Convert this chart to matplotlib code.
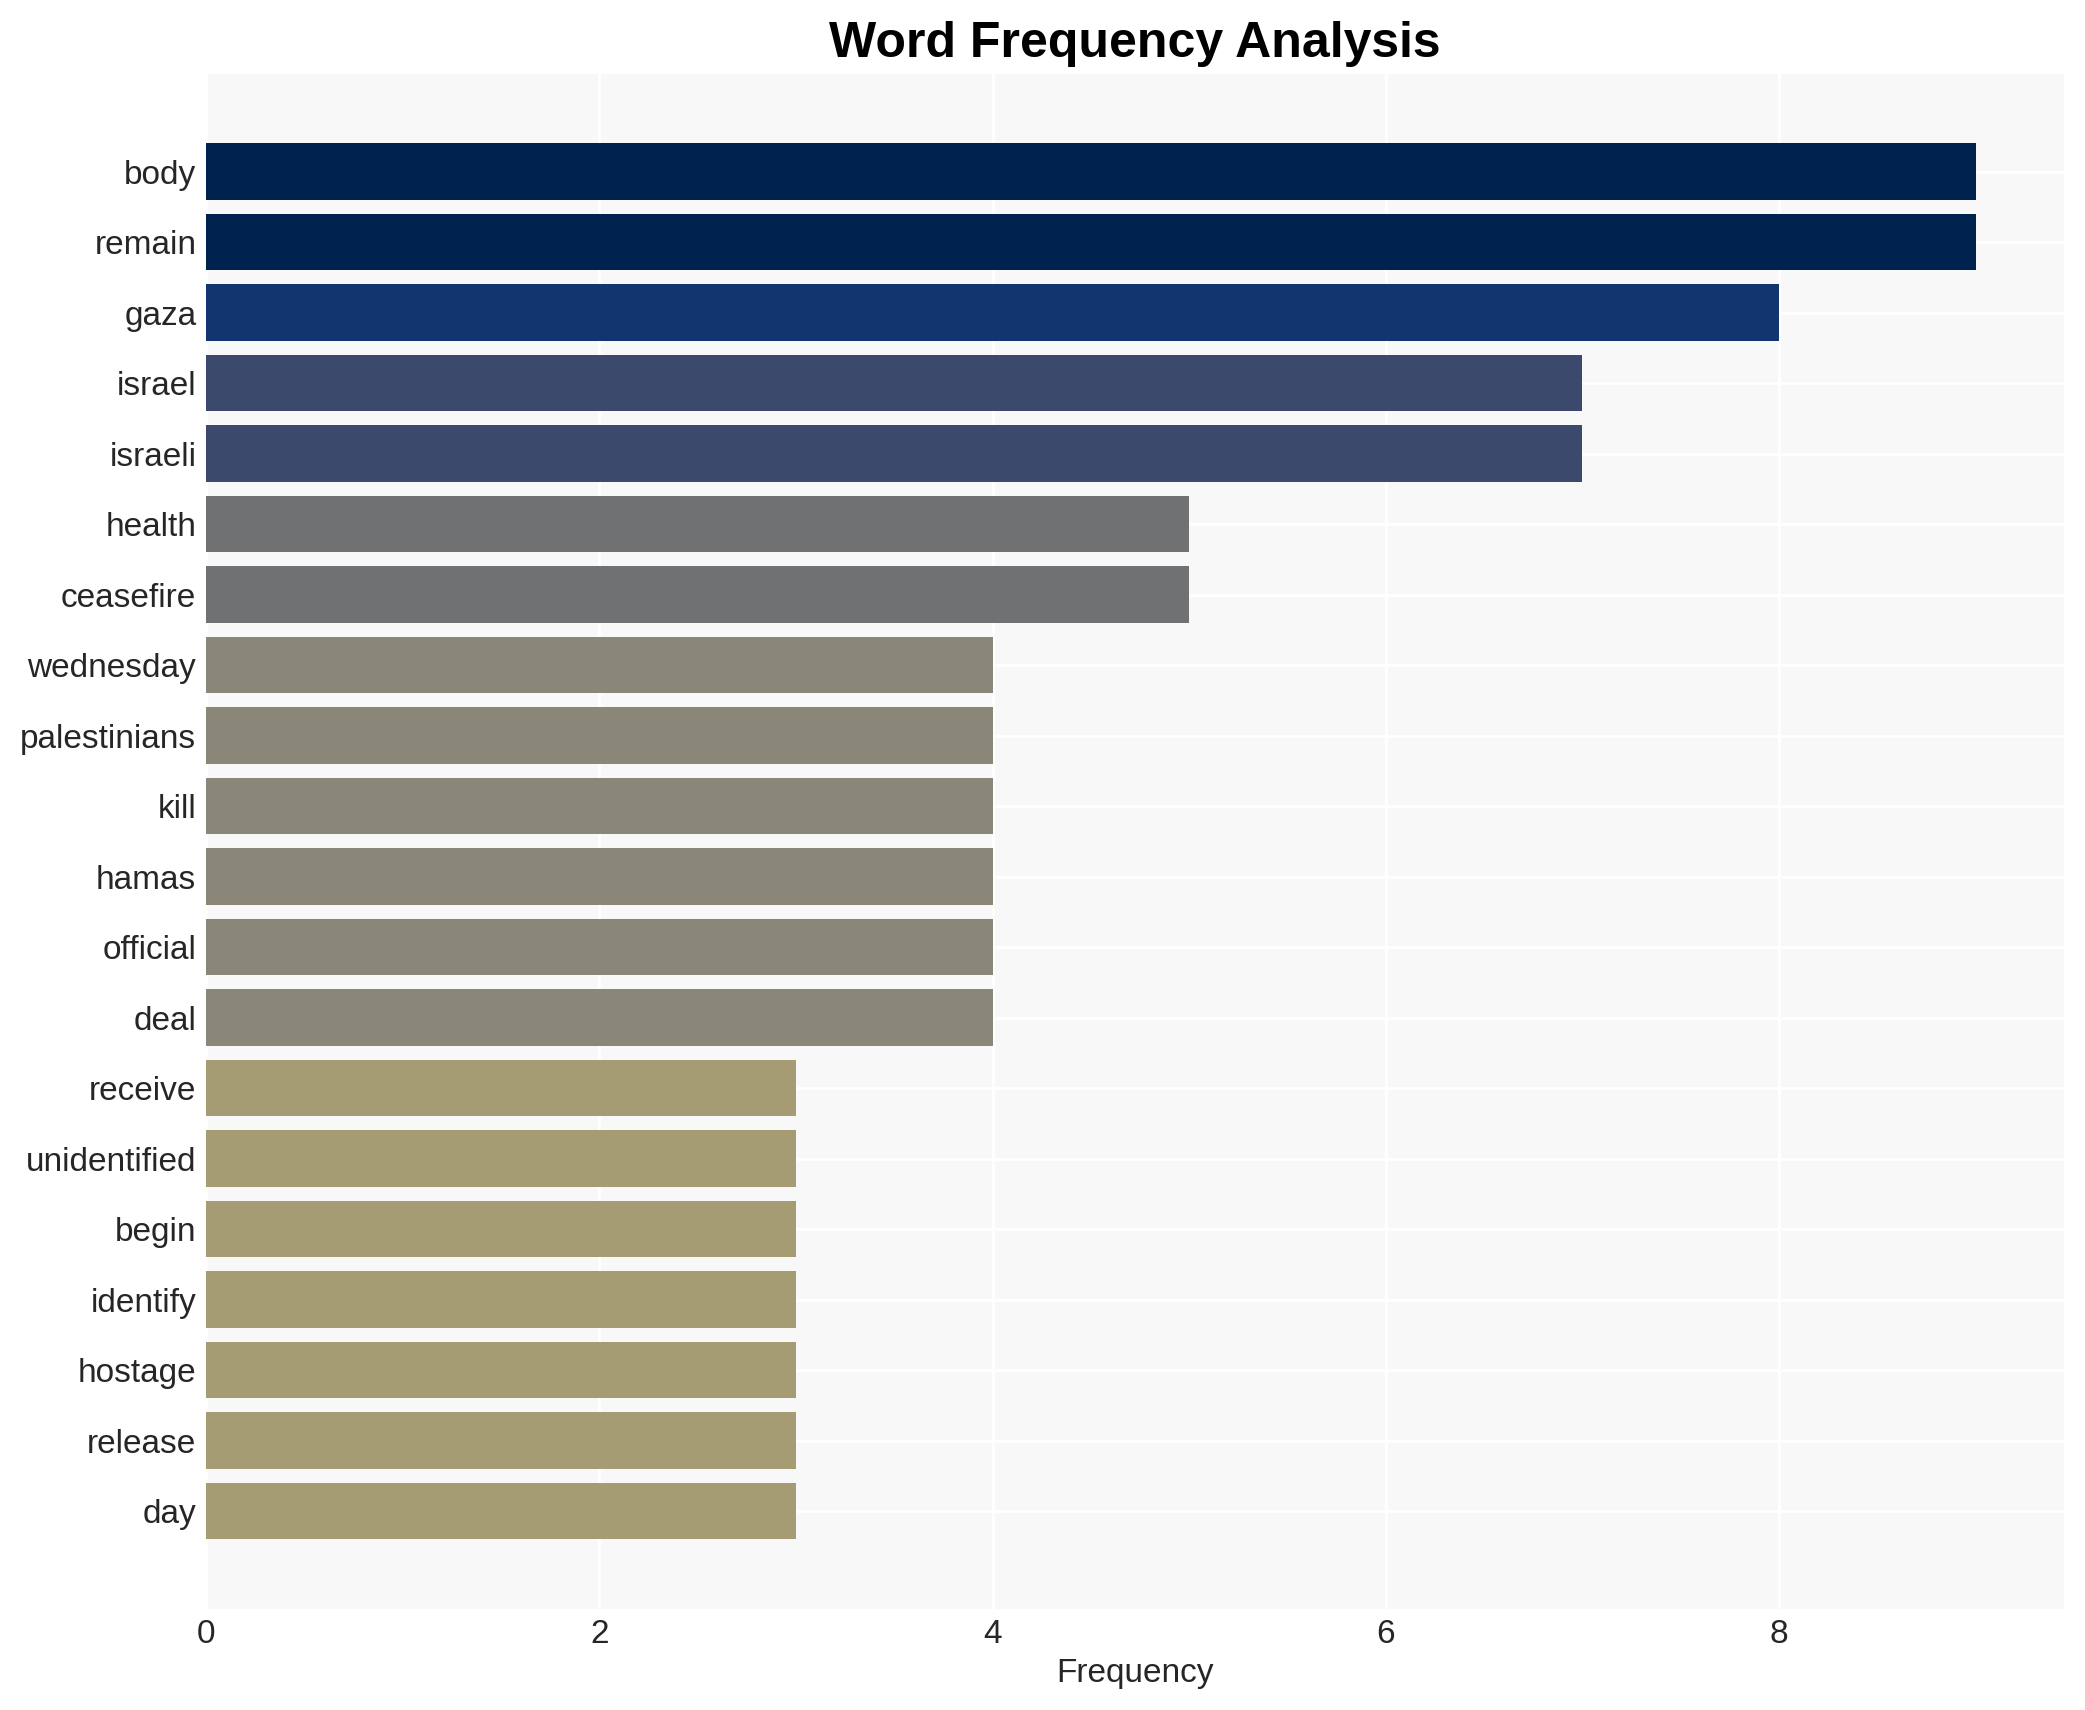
import numpy as np
import matplotlib
matplotlib.use("Agg")
import matplotlib.pyplot as plt

# word counts
words = ['body', 'remain', 'gaza', 'israel', 'israeli', 'health', 'ceasefire',
         'wednesday', 'palestinians', 'kill', 'hamas', 'official', 'deal',
         'receive', 'unidentified', 'begin', 'identify', 'hostage', 'release', 'day']
freqs = [9, 9, 8, 7, 7, 5, 5, 4, 4, 4, 4, 4, 4, 3, 3, 3, 3, 3, 3, 3]
xticks = [0, 2, 4, 6, 8]

plt.rcParams['font.family'] = ['Liberation Sans', 'DejaVu Sans']

freqs_arr = np.array(freqs, dtype=float)
colors = plt.cm.cividis(1 - freqs_arr / freqs_arr.max())

fig, ax = plt.subplots(figsize=(10.425, 8.55), dpi=200)
fig.subplots_adjust(left=0.0988, right=0.990, top=0.957, bottom=0.059)
ax.set_facecolor('#f8f8f8')
ax.grid(True, color='white', linewidth=1.0)
ax.set_axisbelow(True)

ypos = np.arange(len(words))
ax.barh(ypos, freqs_arr, height=0.8, color=colors)
ax.set_yticks(ypos)
ax.set_yticklabels(words)
ax.invert_yaxis()
ax.set_xticks(xticks)

for s in ax.spines.values():
    s.set_visible(False)
ax.tick_params(axis='both', length=0, labelsize=12, labelcolor='#262626', pad=3.5)
ax.set_xlabel('Frequency', fontsize=12, color='#262626', labelpad=3)
ax.set_title('Word Frequency Analysis', fontsize=18, fontweight='bold', pad=6)

fig.savefig('out.png', dpi=200)
